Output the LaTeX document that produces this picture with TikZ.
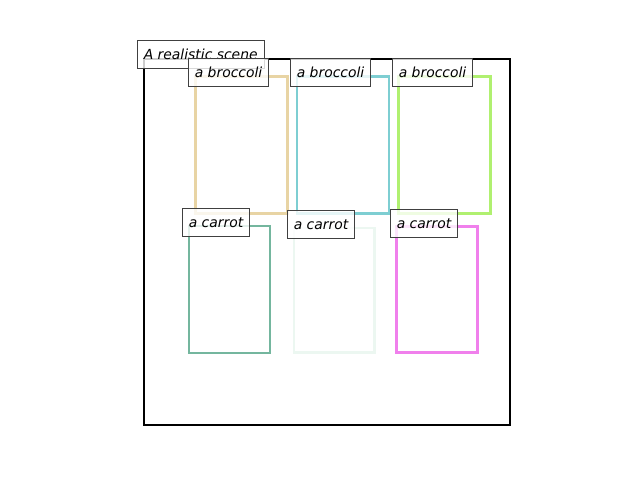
\documentclass[tikz,border=0pt]{standalone}
\usepackage{fontspec}
\setmainfont{DejaVu Sans}
\definecolor{tanC}{RGB}{232,212,164}
\definecolor{tealC}{RGB}{126,206,210}
\definecolor{greenC}{RGB}{176,240,112}
\definecolor{seaC}{RGB}{116,182,158}
\definecolor{paleC}{RGB}{236,247,241}
\definecolor{magC}{RGB}{240,128,236}
\tikzset{
  framebox/.style={draw=black, line width=2.2bp, inner sep=0pt, outer sep=0pt, anchor=north west},
  objbox/.style={draw=#1, line width=2.6bp, inner sep=0pt, outer sep=0pt, anchor=north west},
  lbl/.style={draw=black!75, line width=1.3bp, fill=white, fill opacity=0.8, text opacity=1,
    anchor=north west, minimum height=28bp, inner xsep=6.5bp, inner ysep=0pt, outer sep=0pt,
    font=\fontsize{13.9bp}{16bp}\selectfont\itshape}
}
\begin{document}
\begin{tikzpicture}[x=1bp,y=-1bp]
\useasboundingbox (0,0) rectangle (640,480);
% scene frame
\node[framebox, minimum width=366bp, minimum height=366bp] (scene) at (144,59) {};
% broccoli boxes
\node[objbox=tanC,   minimum width=92bp, minimum height=137bp] (b1) at (195.3,76.3) {};
\node[objbox=tealC,  minimum width=92bp, minimum height=137bp] (b2) at (297,76.3) {};
\node[objbox=greenC, minimum width=92bp, minimum height=137bp] (b3) at (398.7,76.3) {};
% carrot boxes
\node[objbox=seaC,  minimum width=81bp, minimum height=127bp] (c1) at (189,226) {};
\node[objbox=paleC, minimum width=80.5bp, minimum height=124.5bp] (c2) at (294,228) {};
\node[objbox=magC,  minimum width=81bp, minimum height=126bp] (c3) at (396.7,226.7) {};
% labels
\node[lbl] (title) at (137.3,40.3) {A realistic scene};
\node[lbl] (lb1) at (188.3,58.3) {a broccoli};
\node[lbl] (lb2) at (290.3,58.3) {a broccoli};
\node[lbl] (lb3) at (392.3,58.3) {a broccoli};
\node[lbl] (lc1) at (182.3,208.3) {a carrot};
\node[lbl] (lc2) at (287.3,210.7) {a carrot};
\node[lbl] (lc3) at (390.3,209.3) {a carrot};
\end{tikzpicture}
\end{document}
